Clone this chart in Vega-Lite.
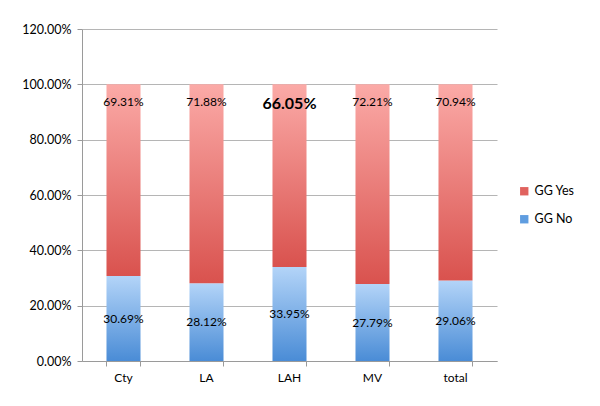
{
  "$schema": "https://vega.github.io/schema/vega-lite/v6.json",
  "width": 415,
  "height": 332,
  "autosize": {"type": "none"},
  "padding": {"left": 82, "top": 29, "right": 103, "bottom": 45},
  "background": "white",
  "data": {
    "values": [
      {"cat": "Cty", "no": 0.3069, "yes": 0.6931},
      {"cat": "LA", "no": 0.2812, "yes": 0.7188},
      {"cat": "LAH", "no": 0.3395, "yes": 0.6605},
      {"cat": "MV", "no": 0.2779, "yes": 0.7221},
      {"cat": "total", "no": 0.2906, "yes": 0.7094}
    ]
  },
  "layer": [
    {
      "mark": {
        "type": "bar",
        "color": {
          "gradient": "linear", "x1": 0, "y1": 0, "x2": 0, "y2": 1,
          "stops": [{"offset": 0, "color": "#b3d4f8"}, {"offset": 1, "color": "#4a8cd6"}]
        }
      },
      "encoding": {
        "x": {
          "field": "cat",
          "type": "nominal",
          "sort": null,
          "title": null,
          "scale": {"paddingInner": 0.59, "paddingOuter": 0.295},
          "axis": {
            "labelAngle": 0,
            "labelFontSize": 12,
            "labelColor": "#000000",
            "labelPadding": 6,
            "tickSize": 5,
            "tickColor": "#9a9a9a",
            "domainColor": "#9a9a9a",
            "bandPosition": 1,
            "tickExtra": true
          }
        },
        "y": {
          "field": "no",
          "type": "quantitative",
          "title": null,
          "scale": {"domain": [0, 1.2], "nice": false},
          "axis": {
            "values": [0, 0.2, 0.4, 0.6, 0.8, 1.0, 1.2],
            "format": ".2%",
            "labelFontSize": 12.5,
            "labelColor": "#000000",
            "labelPadding": 6,
            "tickSize": 5,
            "tickColor": "#9a9a9a",
            "domainColor": "#9a9a9a",
            "gridColor": "#b5b5b5"
          }
        }
      }
    },
    {
      "mark": {
        "type": "bar",
        "color": {
          "gradient": "linear", "x1": 0, "y1": 0, "x2": 0, "y2": 1,
          "stops": [{"offset": 0, "color": "#fbaaa7"}, {"offset": 1, "color": "#d9524e"}]
        }
      },
      "encoding": {
        "x": {"field": "cat", "type": "nominal", "sort": null},
        "y": {"field": "no", "type": "quantitative", "scale": {"domain": [0, 1.2], "nice": false}, "axis": null},
        "y2": {"datum": 1}
      }
    },
    {
      "transform": [{"filter": "datum.cat !== 'LAH'"}],
      "mark": {"type": "text", "fontSize": 12, "dy": 18, "color": "#000000"},
      "encoding": {
        "x": {"field": "cat", "type": "nominal", "sort": null},
        "y": {"datum": 1, "type": "quantitative", "scale": {"domain": [0, 1.2], "nice": false}, "axis": null},
        "text": {"field": "yes", "type": "quantitative", "format": ".2%"}
      }
    },
    {
      "transform": [{"filter": "datum.cat === 'LAH'"}],
      "mark": {"type": "text", "fontSize": 16, "fontWeight": "bold", "dy": 20, "color": "#000000"},
      "encoding": {
        "x": {"field": "cat", "type": "nominal", "sort": null},
        "y": {"datum": 1, "type": "quantitative", "scale": {"domain": [0, 1.2], "nice": false}, "axis": null},
        "text": {"field": "yes", "type": "quantitative", "format": ".2%"}
      }
    },
    {
      "mark": {"type": "text", "fontSize": 12, "color": "#000000"},
      "encoding": {
        "x": {"field": "cat", "type": "nominal", "sort": null},
        "y": {"field": "no", "type": "quantitative", "scale": {"domain": [0, 2.4], "nice": false}, "axis": null},
        "text": {"field": "no", "type": "quantitative", "format": ".2%"}
      }
    },
    {
      "data": {"values": [{"series": "GG Yes"}, {"series": "GG No"}]},
      "mark": {"type": "square", "opacity": 0},
      "encoding": {
        "color": {
          "field": "series",
          "type": "nominal",
          "sort": ["GG Yes", "GG No"],
          "scale": {"domain": ["GG Yes", "GG No"], "range": ["#e0625e", "#5f9de0"]},
          "legend": {
            "title": null,
            "orient": "none",
            "legendX": 436,
            "legendY": 156,
            "symbolType": "square",
            "symbolSize": 70,
            "symbolOpacity": 1,
            "symbolStrokeWidth": 0,
            "labelFontSize": 12.5,
            "labelColor": "#000000",
            "rowPadding": 15
          }
        }
      }
    }
  ],
  "resolve": {"scale": {"y": "independent"}},
  "config": {
    "font": "Lato",
    "view": {"stroke": null},
    "axis": {"labelFont": "Lato"},
    "legend": {"labelFont": "Lato"}
  }
}
